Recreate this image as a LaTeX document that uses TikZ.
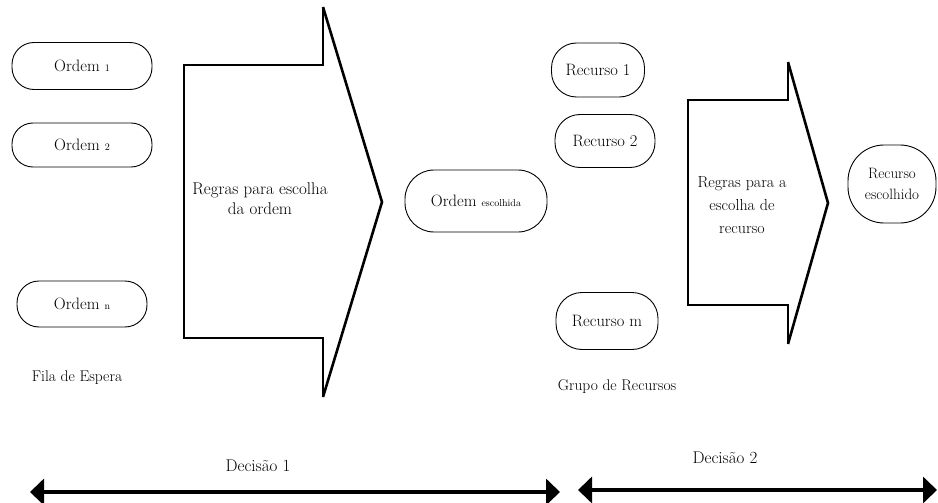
\documentclass[tikz,border=0pt]{standalone}
\usetikzlibrary{arrows.meta}
\newcommand\smalltxt[1]{{\fontsize{10}{11}\selectfont #1}}
\begin{document}
\begin{tikzpicture}[x=1pt,y=-1pt,
  txt/.style={font=\fontsize{17}{20}\selectfont, inner sep=0pt, align=center},
  lbl/.style={font=\fontsize{15.5}{18}\selectfont, inner sep=0pt, align=center},
  stadium/.style={draw, line width=0.9pt, rounded corners=#1, inner sep=0pt, font=\fontsize{16.5}{19}\selectfont, align=center},
  outline/.style={line width=1.6pt, line join=miter},
  diag/.style={line width=2.6pt, line join=miter},
  decarrow/.style={line width=4.5pt, {Triangle[length=14pt,width=26pt]}-{Triangle[length=14pt,width=26pt]}}
]
\useasboundingbox (0,0) rectangle (938,503);
% queue of orders
\node[stadium=22pt, minimum width=140pt, minimum height=47pt] (o1) at (82,66) {Ordem \smalltxt{1}};
\node[stadium=21pt, minimum width=140pt, minimum height=44pt] (o2) at (82,145) {Ordem \smalltxt{2}};
\node[stadium=22pt, minimum width=130pt, minimum height=46pt] (on) at (82,304) {Ordem \smalltxt{n}};
\node[lbl] (fila) at (77,378) {Fila de Espera};
% big arrow 1
\coordinate (a1top) at (323,7);
\coordinate (a1nt) at (323,65);
\coordinate (a1tl) at (184,65);
\coordinate (a1bl) at (184,338);
\coordinate (a1nb) at (323,338);
\coordinate (a1bot) at (323,397);
\coordinate (a1tip) at (382,202);
\draw[outline] (a1top) -- (a1nt) -- (a1tl) -- (a1bl) -- (a1nb) -- (a1bot);
\draw[diag] (a1top) -- (a1tip) -- (a1bot);
\node[txt] (r1) at (260,199) {Regras para escolha\\da ordem};
% chosen order
\node[stadium=29pt, minimum width=142pt, minimum height=62pt] (oe) at (476,201) {Ordem \smalltxt{escolhida}};
% resources
\node[stadium=25pt, minimum width=93pt, minimum height=54pt] (rc1) at (598,70) {Recurso 1};
\node[stadium=25pt, minimum width=100pt, minimum height=53pt] (rc2) at (605,141) {Recurso 2};
\node[stadium=26pt, minimum width=102pt, minimum height=57pt] (rcm) at (607,321) {Recurso m};
\node[lbl] (grupo) at (617,387) {Grupo de Recursos};
% big arrow 2
\coordinate (a2top) at (788,62);
\coordinate (a2nt) at (788,100);
\coordinate (a2tl) at (688,100);
\coordinate (a2bl) at (688,305);
\coordinate (a2nb) at (788,305);
\coordinate (a2bot) at (788,344);
\coordinate (a2tip) at (828,203);
\draw[diag] (a2top) -- (a2nt) -- (a2tl) -- (a2bl) -- (a2nb) -- (a2bot);
\draw[diag] (a2top) -- (a2tip) -- (a2bot);
\node[font=\fontsize{16}{23}\selectfont, inner sep=0pt, align=center] (r2) at (742,205) {Regras para a\\escolha de\\recurso};
% chosen resource
\node[stadium=36pt, minimum width=88pt, minimum height=78pt, font=\fontsize{15}{21}\selectfont] (re) at (892,184) {Recurso\\escolhido};
% decisions
\coordinate (d1l) at (30,492);
\coordinate (d1r) at (560,492);
\draw[decarrow] (d1l) -- (d1r);
\node[txt] (dec1) at (258,466) {Decisão 1};
\coordinate (d2l) at (578,490);
\coordinate (d2r) at (937,490);
\draw[decarrow] (d2l) -- (d2r);
\node[txt] (dec2) at (725,458) {Decisão 2};
\end{tikzpicture}
\end{document}
